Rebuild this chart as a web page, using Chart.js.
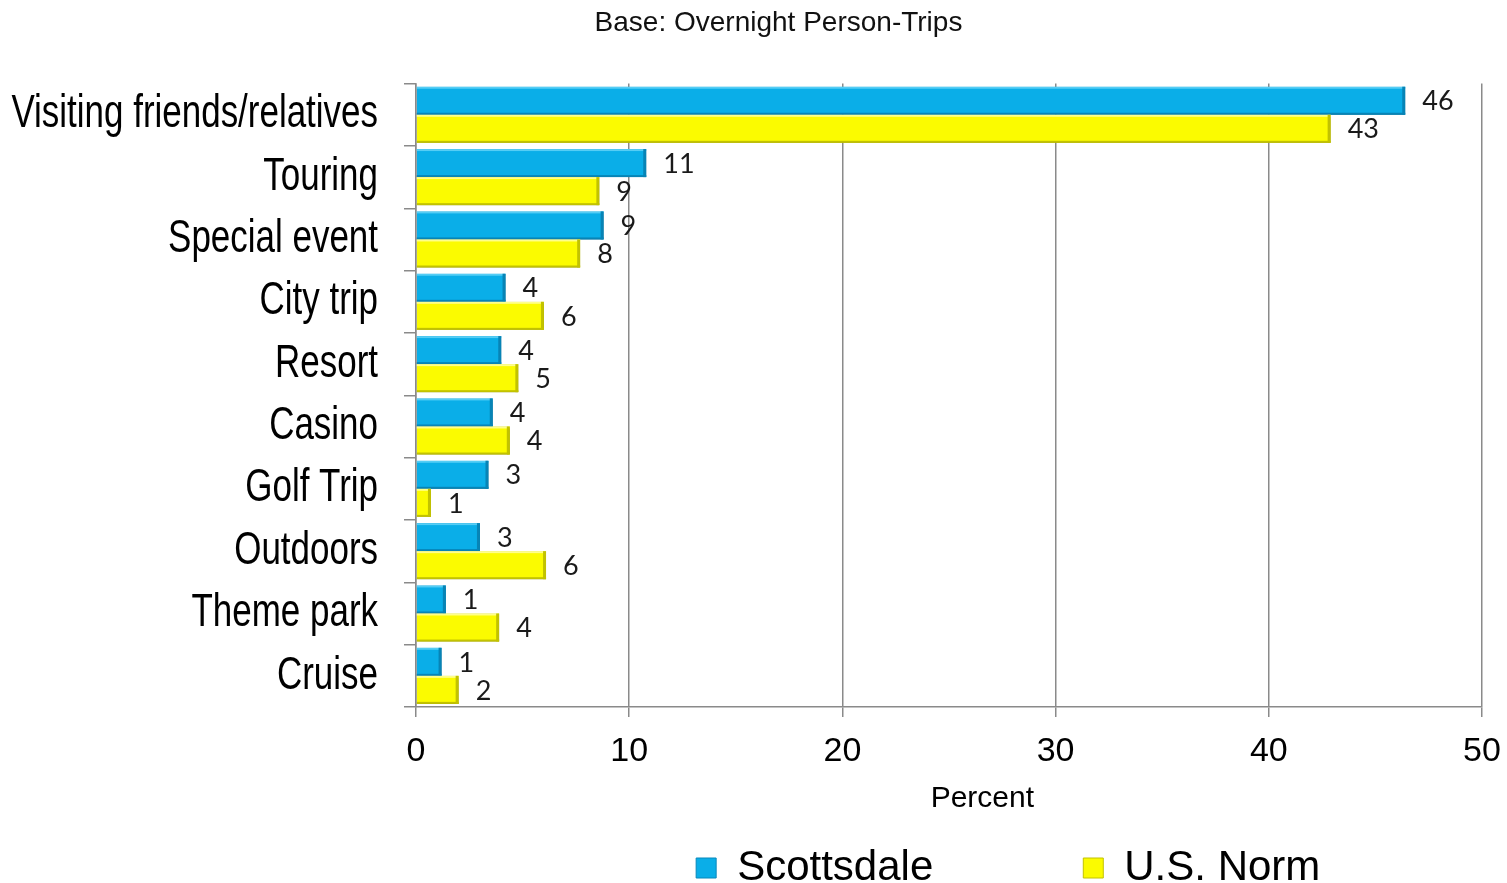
<!DOCTYPE html>
<html>
<head>
<meta charset="utf-8">
<script src="https://cdn.jsdelivr.net/npm/chart.js@4.4.1/dist/chart.umd.min.js"></script>
<style>
  html, body { margin: 0; padding: 0; background: #fff; overflow: hidden; }
  #wrap { width: 1507px; height: 899px; }
</style>
</head>
<body>
<div id="wrap"><canvas id="tripPurpose"></canvas></div>
<script>
const categories = ['Visiting friends/relatives', 'Touring', 'Special event', 'City trip', 'Resort',
                    'Casino', 'Golf Trip', 'Outdoors', 'Theme park', 'Cruise'];
const scottsdale = [46.4, 10.8, 8.8, 4.2, 4.0, 3.6, 3.4, 3.0, 1.4, 1.2];
const usNorm = [42.9, 8.6, 7.7, 6.0, 4.8, 4.4, 0.7, 6.1, 3.9, 2.0];
const xTicks = [0, 10, 20, 30, 40, 50];

const axisGrey = '#8a8a8a';
const edges = [
  { light: '#55cdf5', dark: '#0784b6' },
  { light: '#ffff8a', dark: '#c2c200' }
];

// soft drop shadow under the bars
const barShadow = {
  id: 'barShadow',
  beforeDatasetsDraw(chart) {
    const ctx = chart.ctx;
    ctx.save();
    ctx.shadowColor = 'rgba(0,0,0,0.3)';
    ctx.shadowBlur = 4;
    ctx.shadowOffsetX = 1;
    ctx.shadowOffsetY = 2;
  },
  afterDatasetsDraw(chart) {
    chart.ctx.restore();
  }
};

// light top edge, dark bottom and end edge on every bar
const bevel = {
  id: 'bevel',
  afterDatasetsDraw(chart) {
    const ctx = chart.ctx;
    ctx.save();
    chart.data.datasets.forEach((ds, i) => {
      const c = edges[i];
      chart.getDatasetMeta(i).data.forEach(bar => {
        const { x, y, base, height } = bar.getProps(['x', 'y', 'base', 'height'], true);
        const top = y - height / 2;
        const w = x - base;
        ctx.fillStyle = c.light;
        ctx.fillRect(base, top, w, 2);
        ctx.fillStyle = c.dark;
        ctx.fillRect(base, top + height - 2, w, 2);
        ctx.fillRect(x - 3, top, 3, height);
      });
    });
    ctx.restore();
  }
};

// rounded value at the end of each bar
const valueLabels = {
  id: 'valueLabels',
  afterDatasetsDraw(chart) {
    const ctx = chart.ctx;
    ctx.save();
    ctx.font = '27px Lato';
    ctx.fillStyle = '#1a1a1a';
    ctx.textAlign = 'left';
    ctx.textBaseline = 'middle';
    chart.data.datasets.forEach((ds, i) => {
      chart.getDatasetMeta(i).data.forEach((bar, j) => {
        ctx.fillText(Math.round(ds.data[j]), bar.x + 17, bar.y + 1);
      });
    });
    ctx.restore();
  }
};

// condensed category names left of the y axis
const categoryNames = {
  id: 'categoryNames',
  afterDraw(chart) {
    const scale = chart.scales.y;
    const ctx = chart.ctx;
    ctx.save();
    ctx.font = '46px "Liberation Sans"';
    ctx.fillStyle = '#000';
    ctx.textAlign = 'right';
    ctx.textBaseline = 'middle';
    chart.data.labels.forEach((name, i) => {
      ctx.save();
      ctx.translate(scale.right - 38, scale.getPixelForTick(i));
      ctx.scale(0.76, 1);
      ctx.fillText(name, 0, 0);
      ctx.restore();
    });
    ctx.restore();
  }
};

const ctx = document.getElementById('tripPurpose').getContext('2d');
new Chart(ctx, {
  type: 'bar',
  data: {
    labels: categories,
    datasets: [{
      label: 'Scottsdale',
      data: scottsdale,
      backgroundColor: '#0aaee8',
      borderColor: '#0788bb',
      borderWidth: 1,
      categoryPercentage: 0.9,
      barPercentage: 1.0
    }, {
      label: 'U.S. Norm',
      data: usNorm,
      backgroundColor: '#fbfb00',
      borderColor: '#c2c200',
      borderWidth: 1,
      categoryPercentage: 0.9,
      barPercentage: 1.0
    }]
  },
  options: {
    indexAxis: 'y',
    responsive: true,
    maintainAspectRatio: false,
    animation: false,
    layout: { padding: { left: 75, right: 25, top: 0, bottom: 0 } },
    plugins: {
      title: {
        display: true,
        text: 'Base: Overnight Person-Trips',
        color: '#111',
        font: { family: 'Liberation Sans, Arial', size: 28, weight: 'normal' },
        padding: { top: 6, bottom: 44 }
      },
      legend: {
        position: 'bottom',
        align: 'end',
        labels: {
          color: '#000',
          boxWidth: 20,
          boxHeight: 20,
          padding: 10,
          font: { family: 'Liberation Sans, Arial', size: 42 },
          generateLabels(chart) {
            const items = Chart.defaults.plugins.legend.labels.generateLabels(chart);
            // wide gaps between the two entries
            items[0].text += '\u00a0'.repeat(12);
            items[1].text += '\u00a0'.repeat(13);
            return items;
          }
        }
      },
      tooltip: { enabled: false }
    },
    scales: {
      x: {
        min: 0,
        max: 50,
        afterBuildTicks(scale) {
          scale.ticks = xTicks.map(v => ({ value: v }));
        },
        afterFit(scale) {
          scale.height = 130;
        },
        grid: { color: axisGrey, lineWidth: 1.5, tickLength: 10 },
        border: { color: axisGrey, width: 1.5 },
        ticks: {
          color: '#000',
          padding: 6,
          font: { family: 'Liberation Sans, Arial', size: 34, lineHeight: 1.68 }
        },
        title: {
          display: true,
          // nudged a little right of the axis centre
          text: '\u00a0'.repeat(8) + 'Percent',
          color: '#000',
          font: { family: 'Liberation Sans, Arial', size: 30 },
          padding: { top: 0, bottom: 20 }
        }
      },
      y: {
        afterFit(scale) {
          scale.width = 341;
        },
        grid: { offset: true, drawOnChartArea: false, color: axisGrey, lineWidth: 1.5, tickLength: 12 },
        border: { color: axisGrey, width: 1.5 },
        ticks: { display: false }
      }
    }
  },
  plugins: [barShadow, bevel, valueLabels, categoryNames]
});
</script>
</body>
</html>
